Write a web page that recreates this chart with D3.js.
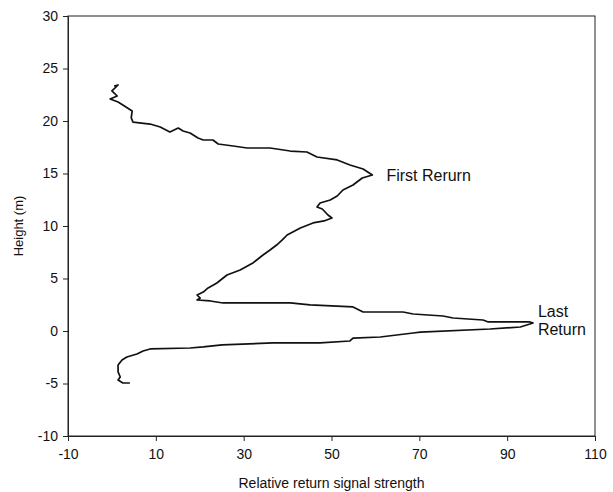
<!DOCTYPE html>
<html>
<head>
<meta charset="utf-8">
<script src="https://cdn.jsdelivr.net/npm/d3@7"></script>
<style>
  body { margin: 0; background: #fff; }
  text { font-family: "Liberation Sans", Arial, sans-serif; fill: #111; }
</style>
</head>
<body>
<svg id="chart" width="613" height="492"></svg>
<script>
// waveform, top of canopy down to below ground
const signal = [0.5, 1.4, 0.0, 1.2, -0.4, 1.4, 3.2, 4.6, 4.4, 4.8, 8.7, 11.0, 13.2, 15.1, 16.2, 17.8,
  19.6, 20.8, 23.0, 24.2, 27.6, 30.8, 36.0, 40.6, 44.4, 46.7, 51.3, 54.2, 57.2, 59.3, 57.0, 54.9,
  52.6, 51.3, 49.7, 47.4, 46.7, 47.9, 49.2, 50.1, 48.3, 45.8, 42.9, 39.9, 38.8, 37.8, 36.0, 34.4,
  32.1, 29.2, 26.2, 23.9, 21.9, 20.8, 19.4, 20.1, 19.4, 22.4, 25.3, 40.6, 45.1, 54.9, 57.2, 66.3,
  68.6, 75.4, 77.7, 84.5, 85.7, 95.2, 95.9, 93.0, 86.1, 70.2, 68.6, 61.1, 54.9, 54.2, 47.4, 36.7,
  25.1, 20.8, 17.8, 8.7, 7.1, 5.7, 3.4, 2.3, 1.4, 1.4, 1.9, 1.4, 2.5, 4.1];
const height = [23.33, 23.43, 22.86, 22.38, 22.10, 21.81, 21.33, 20.95, 20.29, 19.90, 19.71, 19.43,
  18.95, 19.33, 19.05, 18.86, 18.38, 18.19, 18.19, 17.81, 17.62, 17.43, 17.43, 17.14, 17.05, 16.57,
  16.29, 15.81, 15.43, 14.86, 14.57, 13.90, 13.43, 12.86, 12.48, 12.19, 11.81, 11.62, 11.05, 10.76,
  10.48, 10.29, 9.81, 9.14, 8.67, 8.29, 7.71, 7.24, 6.48, 5.81, 5.33, 4.57, 4.10, 3.71, 3.43, 3.14,
  2.95, 2.86, 2.67, 2.67, 2.48, 2.29, 1.81, 1.81, 1.62, 1.43, 1.24, 1.05, 0.86, 0.86, 0.76, 0.38,
  0.19, -0.10, -0.19, -0.57, -0.67, -0.95, -1.14, -1.14, -1.33, -1.52, -1.62, -1.71, -1.90, -2.19,
  -2.48, -2.76, -3.24, -3.90, -4.38, -4.67, -4.95, -4.95];

const xTicks = [-10, 10, 30, 50, 70, 90, 110];
const yTicks = [-10, -5, 0, 5, 10, 15, 20, 25, 30];

const notes = [
  { lines: ["First Rerurn"], x: 62.5, y: 14.8 },
  { lines: ["Last", "Return"], x: 97, y: 1.9 }
];

const svg = d3.select("#chart");
const pLeft = 68, pRight = 595, pTop = 16, pBottom = 436;

const x = d3.scaleLinear().domain([-10, 110]).range([pLeft, pRight]);
const y = d3.scaleLinear().domain([-10, 30]).range([pBottom, pTop]);

// plain hyphen for negatives, like the original
const fmt = function(d) { return String(d); };

// plot frame
svg.append("rect")
  .attr("x", pLeft).attr("y", pTop)
  .attr("width", pRight - pLeft).attr("height", pBottom - pTop)
  .attr("fill", "none").attr("stroke", "#222").attr("stroke-width", 1);

const yAxis = svg.append("g")
  .attr("transform", "translate(" + pLeft + ",0)")
  .call(d3.axisLeft(y).tickValues(yTicks).tickFormat(fmt).tickSize(5).tickPadding(5));
const xAxis = svg.append("g")
  .attr("transform", "translate(0," + pBottom + ")")
  .call(d3.axisBottom(x).tickValues(xTicks).tickFormat(fmt).tickSize(5).tickPadding(5));

[yAxis, xAxis].forEach(function(g) {
  g.select(".domain").attr("stroke", "#222");
  g.selectAll(".tick line").attr("stroke", "#222");
  g.selectAll(".tick text")
    .style("font-size", "14px")
    .style("font-family", "Liberation Sans, Arial, sans-serif")
    .attr("fill", "#111");
});
xAxis.selectAll(".tick text").attr("dy", "0.9em");

svg.append("text")
  .attr("transform", "translate(23," + (pTop + pBottom) / 2 + ")rotate(-90)")
  .attr("text-anchor", "middle")
  .style("font-size", "13px")
  .text("Height (m)");

svg.append("text")
  .attr("x", (pLeft + pRight) / 2)
  .attr("y", 488)
  .attr("text-anchor", "middle")
  .style("font-size", "14px")
  .text("Relative return signal strength");

const line = d3.line()
  .x(function(d, i) { return x(signal[i]); })
  .y(function(d, i) { return y(height[i]); });

svg.append("path")
  .datum(signal)
  .attr("d", line)
  .attr("fill", "none")
  .attr("stroke", "#111")
  .attr("stroke-width", 1.7)
  .attr("stroke-linejoin", "round");

notes.forEach(function(n) {
  const t = svg.append("text")
    .attr("x", x(n.x))
    .attr("y", y(n.y))
    .style("font-size", "16px");
  n.lines.forEach(function(s, i) {
    t.append("tspan")
      .attr("x", x(n.x))
      .attr("dy", i === 0 ? "0.35em" : "1.15em")
      .text(s);
  });
});
</script>
</body>
</html>
